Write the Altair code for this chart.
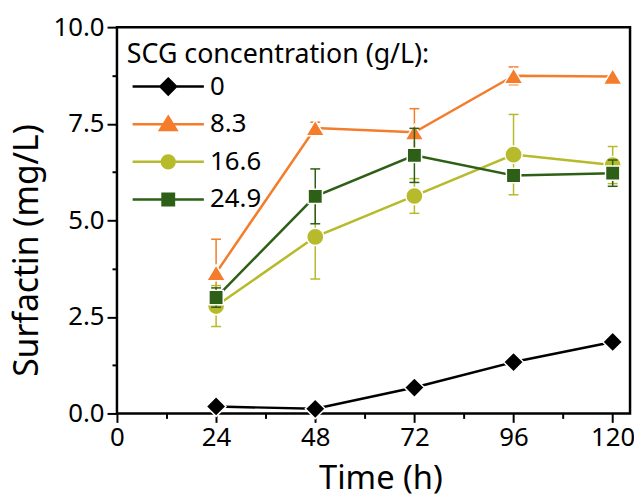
import altair as alt
import pandas as pd

# ---- data ----
times = [24, 48, 72, 96, 120]
series_names = ["0", "8.3", "16.6", "24.9"]

surf_0 = [0.18, 0.12, 0.67, 1.33, 1.85]
err_0 = [0.0, 0.0, 0.0, 0.0, 0.0]
surf_8_3 = [3.64, 7.39, 7.28, 8.74, 8.72]
err_8_3 = [0.87, 0.15, 0.61, 0.23, 0.0]
surf_16_6 = [2.78, 4.57, 5.63, 6.70, 6.43]
err_16_6 = [0.53, 1.09, 0.45, 1.04, 0.48]
surf_24_9 = [3.00, 5.62, 6.68, 6.16, 6.22]
err_24_9 = [0.25, 0.71, 0.70, 0.10, 0.34]

colors = ["#000000", "#F47C2B", "#B7BA2A", "#2D5F16"]

# marker paths (unit box -1..1)
marker_paths = [
    "M0,-1L1,0L0,1L-1,0Z",
    "M0,-0.92L1.1,0.92L-1.1,0.92Z",
    "M1,0A1,1 0 1,1 -1,0A1,1 0 1,1 1,0Z",
    "M-1,-1H1V1H-1Z",
]
marker_sizes = [400, 300, 300, 210]

# legend symbols: line with marker in the middle
legend_paths = [
    "M-1,0H9M4,-1.1L5.1,0L4,1.1L2.9,0Z",
    "M-1,0H9M4,-1.05L5.15,0.8L2.85,0.8Z",
    "M-1,0H9M4.9,0A0.9,0.9 0 1,1 3.1,0A0.9,0.9 0 1,1 4.9,0Z",
    "M-1,0H9M3.2,-0.8H4.8V0.8H3.2Z",
]

all_vals = [surf_0, surf_8_3, surf_16_6, surf_24_9]
all_errs = [err_0, err_8_3, err_16_6, err_24_9]

rows = []
for name, vals, errs in zip(series_names, all_vals, all_errs):
    for t, v, e in zip(times, vals, errs):
        rows.append({"series": name, "time": t, "value": v,
                     "lo": v - e, "hi": v + e, "err": e})
df = pd.DataFrame(rows)

FONT = "Noto Sans"

x_axis = alt.Axis(
    values=[0, 12, 24, 36, 48, 60, 72, 84, 96, 108, 120],
    labelExpr="datum.value % 24 === 0 ? datum.label : ''",
    tickSize={"condition": {"test": "datum.value % 24 === 0", "value": 9}, "value": 5},
    tickWidth=2, tickColor="black", domain=False, grid=False,
    labelFontSize=26, labelFont=FONT, labelColor="black", labelPadding=2,
    labelFlush=False, labelOverlap=False,
    title="Time (h)", titleFontSize=33, titleFont=FONT, titleFontWeight="normal",
    titleColor="black", titlePadding=13, titleX=266,
)
y_axis = alt.Axis(
    values=[0, 1.25, 2.5, 3.75, 5, 6.25, 7.5, 8.75, 10],
    format=".1f",
    labelExpr="datum.value % 2.5 === 0 ? datum.label : ''",
    tickSize={"condition": {"test": "datum.value % 2.5 === 0", "value": 10}, "value": 5},
    tickWidth=2, tickColor="black", domain=False, grid=False,
    labelFontSize=26, labelFont=FONT, labelColor="black", labelPadding=3,
    labelFlush=False, labelOverlap=False,
    title="Surfactin (mg/L)", titleFontSize=34, titleFont=FONT, titleFontWeight="normal",
    titleColor="black", titlePadding=9, titleY=225,
)

X = alt.X("time:Q", scale=alt.Scale(domain=[0, 124.2], nice=False, zero=False), axis=x_axis)
Y = alt.Y("value:Q", scale=alt.Scale(domain=[0, 10], nice=False), axis=y_axis)

layers = []
for i, name in enumerate(series_names):
    c = colors[i]
    base = alt.Chart(df).transform_filter(alt.datum.series == name)
    layers.append(base.mark_line(color=c, strokeWidth=2.5).encode(x=X, y=Y))
    eb = base.transform_filter(alt.datum.err > 0)
    layers.append(eb.mark_rule(color=c, strokeWidth=1.5).encode(x="time:Q", y="lo:Q", y2="hi:Q"))
    layers.append(eb.mark_tick(color=c, orient="horizontal", size=10, thickness=1.5, opacity=1)
                  .encode(x="time:Q", y="lo:Q"))
    layers.append(eb.mark_tick(color=c, orient="horizontal", size=10, thickness=1.5, opacity=1)
                  .encode(x="time:Q", y="hi:Q"))
    layers.append(base.mark_point(shape=marker_paths[i], size=marker_sizes[i], filled=True,
                                  fill=c, stroke="white", strokeWidth=1.5, opacity=1)
                  .encode(x="time:Q", y="value:Q"))

leg = alt.Legend(
    orient="none", legendX=10, legendY=15, padding=0,
    title="SCG concentration (g/L):", titleFontSize=27, titleFont=FONT,
    titleFontWeight="normal", titleColor="black", titlePadding=5, titleLimit=600,
    labelFontSize=26, labelFont=FONT, labelColor="black", labelOffset=58,
    symbolSize=207, symbolStrokeWidth=2.5, symbolOpacity=1, rowPadding=12,
)
legend_layer = alt.Chart(df).transform_filter("false").mark_point(filled=True, opacity=1).encode(
    x="time:Q", y="value:Q",
    fill=alt.Fill("series:N", scale=alt.Scale(domain=series_names, range=colors), legend=leg),
    stroke=alt.Stroke("series:N", scale=alt.Scale(domain=series_names, range=colors), legend=leg),
    shape=alt.Shape("series:N", scale=alt.Scale(domain=series_names, range=legend_paths), legend=leg),
)
layers.append(legend_layer)

chart = alt.layer(*layers).properties(
    width=518, height=390,
    autosize=alt.AutoSizeParams(type="none"),
    padding={"left": 110, "top": 17, "right": 4, "bottom": 80},
).configure_view(stroke="black", strokeWidth=2.5)

chart.save("out.html", embed_options={"renderer": "svg", "actions": False})
